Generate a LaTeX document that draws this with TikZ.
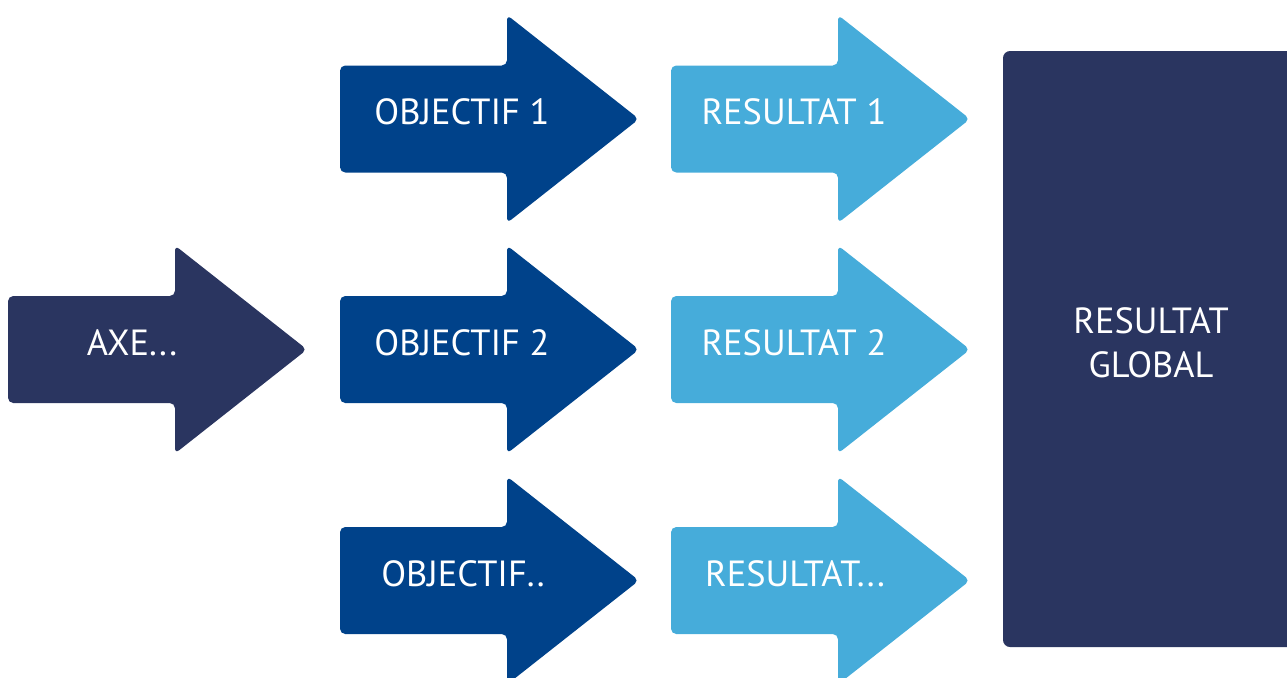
\documentclass[tikz,border=0pt]{standalone}
\usepackage{fontspec}
\setmainfont{PT Sans}

\definecolor{axenavy}{HTML}{2A3560}
\definecolor{objblue}{HTML}{00428A}
\definecolor{resblue}{HTML}{46ACDA}

% block arrow: #1 = left x, #2 = middle y, #3 = colour
\newcommand{\blockarrow}[3]{%
  \fill[#3, rounded corners=3pt] (#1,#2-53.5) -- (#1+167,#2-53.5) -- (#1+167,#2-104)
    -- (#1+299,#2) -- (#1+167,#2+104) -- (#1+167,#2+53.5) -- (#1,#2+53.5) -- cycle;}

\begin{document}
\begin{tikzpicture}[x=0.02cm, y=-0.02cm,
  lbl/.style={text=white, font=\fontsize{20.7}{25}\selectfont, inner sep=0pt}]
\useasboundingbox (0,0) rectangle (1287,677);
%
\blockarrow{8}{349.5}{axenavy}
\node[lbl] (axe) at (132,343) {AXE...};
%
\blockarrow{340}{119}{objblue}
\node[lbl] (obj1) at (462,112) {OBJECTIF 1};
\blockarrow{340}{349.5}{objblue}
\node[lbl] (obj2) at (462,343) {OBJECTIF 2};
\blockarrow{340}{580.5}{objblue}
\node[lbl] (obj3) at (463,574) {OBJECTIF..};
%
\blockarrow{671}{119}{resblue}
\node[lbl] (res1) at (794,112) {RESULTAT 1};
\blockarrow{671}{349.5}{resblue}
\node[lbl] (res2) at (794,343) {RESULTAT 2};
\blockarrow{671}{580.5}{resblue}
\node[lbl] (res3) at (795,574) {RESULTAT...};
%
\fill[axenavy, rounded corners=4pt] (1003,51) rectangle (1310,647);
\node[lbl, align=center] (global) at (1151,343) {RESULTAT\\GLOBAL};
\end{tikzpicture}
\end{document}
